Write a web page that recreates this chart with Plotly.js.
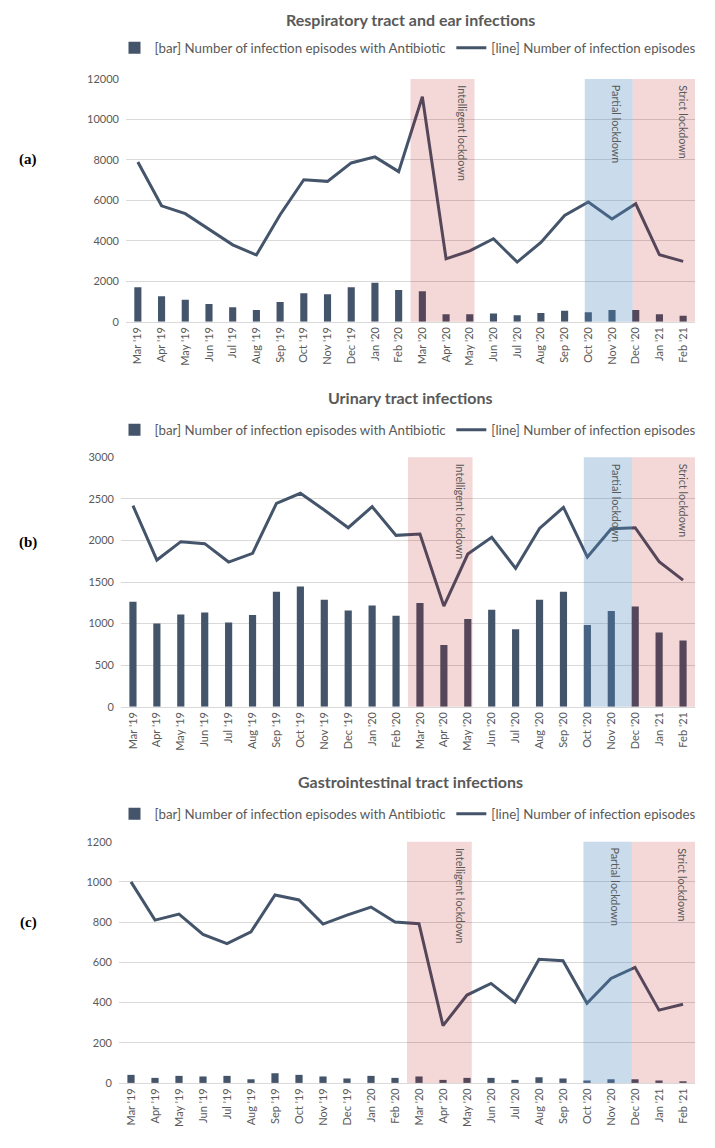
<!DOCTYPE html>
<html>
<head>
<meta charset="utf-8">
<script src="https://cdn.plot.ly/plotly-3.0.1.min.js"></script>
<style>
  html, body { margin: 0; padding: 0; background: #ffffff; }
  #chart { width: 715px; height: 1148px; }
</style>
</head>
<body>
<div id="chart"></div>
<script>
// ---------- data ----------
const months = ["Mar '19","Apr '19","May '19","Jun '19","Jul '19","Aug '19","Sep '19","Oct '19",
                "Nov '19","Dec '19","Jan '20","Feb '20","Mar '20","Apr '20","May '20","Jun '20",
                "Jul '20","Aug '20","Sep '20","Oct '20","Nov '20","Dec '20","Jan '21","Feb '21"];

const panelTitles = ["Respiratory tract and ear infections", "Urinary tract infections", "Gastrointestinal tract infections"];
const panelLetters = ["(a)", "(b)", "(c)"];
const barName = "[bar] Number of infection episodes with Antibiotic";
const lineName = "[line] Number of infection episodes";
const periodLabels = ["Intelligent lockdown", "Partial lockdown", "Strict lockdown"];

const respBars = [1705,1260,1090,880,715,580,980,1410,1360,1705,1920,1570,1505,370,370,400,315,430,545,465,580,580,365,300];
const respLine = [7900,5730,5340,4550,3800,3300,5290,7020,6940,7850,8150,7420,11120,3110,3500,4100,2950,3920,5250,5920,5080,5830,3310,2980];

const utiBars = [1262,1002,1110,1134,1014,1102,1383,1447,1287,1158,1218,1094,1246,741,1054,1166,933,1287,1383,982,1150,1206,893,797];
const utiLine = [2418,1764,1985,1961,1740,1844,2446,2567,2366,2153,2406,2061,2077,1210,1836,2037,1664,2145,2398,1800,2141,2153,1744,1523];

const giBars = [40,25,35,32,35,18,48,40,32,22,35,25,32,15,25,25,15,28,22,12,18,18,12,8];
const giLine = [1000,810,840,739,693,752,935,910,790,835,875,800,792,285,437,495,401,615,608,396,520,575,362,391];

// ---------- style ----------
const W = 715, H = 1148;
const navy = '#44546a';
const grey = '#595959';
const font = 'Lato, "Liberation Sans", sans-serif';

const panels = [
  { bars: respBars, line: respLine, left: 126, top: 79,    bottom: 321.7, ymax: 12000, dtick: 2000, titleY: 20,  legendY: 48,  letterY: 160 },
  { bars: utiBars,  line: utiLine,  left: 121, top: 457.3, bottom: 706.7, ymax: 3000,  dtick: 500,  titleY: 397, legendY: 430, letterY: 542 },
  { bars: giBars,   line: giLine,   left: 119, top: 841.7, bottom: 1082.9, ymax: 1200, dtick: 200,  titleY: 781, legendY: 814, letterY: 922 }
];

// shaded periods as category-index positions
const periods = [
  { x0: 11.5,  x1: 14.2,  color: 'rgb(183,0,0)',     opacity: 0.153, labelX: 13.7 },
  { x0: 18.85, x1: 20.87, color: 'rgb(78,138,192)',  opacity: 0.30,  labelX: 20.2 },
  { x0: 20.87, x1: 23.5,  color: 'rgb(183,0,0)',     opacity: 0.153, labelX: 23.0 }
];

const data = [];
const layout = {
  width: W, height: H,
  margin: { l: 0, r: 0, t: 0, b: 0 },
  paper_bgcolor: '#ffffff', plot_bgcolor: '#ffffff',
  font: { family: font, color: grey },
  bargap: 0.7,
  shapes: [], annotations: []
};

panels.forEach((p, i) => {
  const n = i === 0 ? '' : String(i + 1);
  const xa = 'x' + n, ya = 'y' + n;
  const leg = 'legend' + n;

  data.push({
    type: 'bar', x: months, y: p.bars, name: barName,
    xaxis: xa, yaxis: ya, legend: leg,
    marker: { color: navy }, hoverinfo: 'x+y'
  });
  data.push({
    type: 'scatter', mode: 'lines', x: months, y: p.line, name: lineName,
    xaxis: xa, yaxis: ya, legend: leg,
    line: { color: navy, width: 3 }, hoverinfo: 'x+y'
  });

  layout['xaxis' + n] = {
    domain: [p.left / W, 695 / W], anchor: ya,
    type: 'category', tickangle: -90,
    tickfont: { size: 11, color: grey, family: font },
    showgrid: false, showline: true, linecolor: '#d9d9d9', linewidth: 1,
    ticks: '', fixedrange: true
  };
  layout['yaxis' + n] = {
    domain: [1 - p.bottom / H, 1 - p.top / H], anchor: xa,
    range: [0, p.ymax], dtick: p.dtick, tick0: 0, tickformat: 'd',
    tickfont: { size: 11, color: grey, family: font },
    showgrid: true, gridcolor: '#d9d9d9', gridwidth: 1,
    zeroline: false, showline: false, ticks: '', ticklabelstandoff: 6,
    fixedrange: true
  };

  layout[leg] = {
    orientation: 'h', x: 408 / W, xanchor: 'center',
    y: 1 - p.legendY / H, yanchor: 'middle',
    font: { size: 13.3, color: grey, family: font },
    bgcolor: 'rgba(0,0,0,0)', itemclick: false, itemdoubleclick: false,
    tracegroupgap: 0
  };

  periods.forEach((s, k) => {
    layout.shapes.push({
      type: 'rect', xref: xa, yref: ya + ' domain',
      x0: s.x0, x1: s.x1, y0: 0, y1: 1,
      fillcolor: s.color, opacity: s.opacity, line: { width: 0 }, layer: 'above'
    });
    layout.annotations.push({
      text: periodLabels[k], xref: xa, yref: ya + ' domain',
      x: s.labelX, y: 1, yshift: -4, xanchor: 'center', yanchor: 'top',
      textangle: 90, showarrow: false,
      font: { size: 10.8, color: grey, family: font }
    });
  });

  layout.annotations.push({
    text: '<b>' + panelTitles[i] + '</b>', xref: 'paper', yref: 'paper',
    x: 410 / W, y: 1 - p.titleY / H, xanchor: 'center', yanchor: 'middle',
    showarrow: false, font: { size: 16, color: grey, family: font }
  });
  layout.annotations.push({
    text: '<b>' + panelLetters[i] + '</b>', xref: 'paper', yref: 'paper',
    x: 28 / W, y: 1 - p.letterY / H, xanchor: 'center', yanchor: 'middle',
    showarrow: false, font: { size: 15, color: '#000000', family: '"Liberation Serif", "DejaVu Serif", serif' }
  });
});

Plotly.newPlot('chart', data, layout, { displayModeBar: false, staticPlot: true });
</script>
</body>
</html>
